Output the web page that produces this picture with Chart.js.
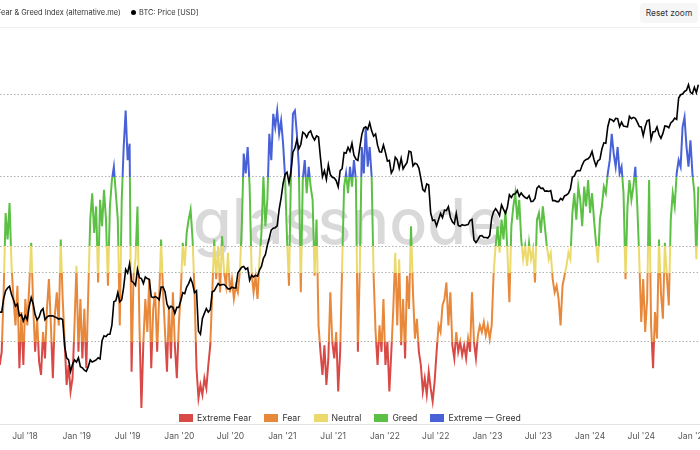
<!DOCTYPE html>
<html>
<head>
<meta charset="utf-8">
<title>Fear & Greed Index vs BTC price</title>
<script src="https://cdn.jsdelivr.net/npm/chart.js@4.4.0/dist/chart.umd.min.js"></script>
<style>
  html, body { margin: 0; padding: 0; background: #fff; }
  #wrap { position: relative; width: 700px; height: 450px; overflow: hidden; font-family: Inter, "Noto Sans", sans-serif; }
  #graph { position: absolute; left: 0; top: 0; }
  #head { position: absolute; left: 0; top: 0; width: 700px; height: 27px; border-bottom: 1px solid #ededed; }
  .item { position: absolute; top: 8px; font-size: 7.4px; color: #333; white-space: nowrap; }
  .dot { display: inline-block; width: 5px; height: 5px; border-radius: 50%; background: #000; margin-right: 3px; vertical-align: 0px; }
  #reset { position: absolute; left: 640px; top: 3px; width: 58px; height: 20px; line-height: 20px; text-align: center;
           background: #f6f6f7; border-radius: 4px; font-size: 8.4px; color: #333; }
  #legend { position: absolute; left: 0; top: 412px; width: 700px; display: flex; justify-content: center; gap: 13px;
            font-size: 8.7px; color: #333; line-height: 12px; }
  #legend span.box { display: inline-block; width: 14px; height: 8px; margin-right: 4px; vertical-align: -0.5px; }
</style>
</head>
<body>
<div id="wrap">
  <canvas id="graph" width="700" height="450"></canvas>
  <div id="head">
    <span class="item" style="left:-3px">Fear &amp; Greed Index (alternative.me)</span>
    <span class="item" style="left:131px"><span class="dot"></span>BTC: Price [USD]</span>
    <div id="reset">Reset zoom</div>
  </div>
  <div id="legend"></div>
</div>
<script>
// weekly samples, first one on startDate
const startDate = "2018-04-02";
const stepDays = 7;

const fearGreed = [
  18, 22, 40, 64, 56, 67, 48, 38, 30, 42,
  17, 34, 18, 38, 30, 42, 55, 36, 22, 32,
  19, 15, 28, 20, 35, 44, 30, 14, 33, 40,
  30, 56, 38, 25, 12, 18, 10, 14, 30, 48,
  22, 38, 20, 35, 17, 40, 62, 70, 58, 66,
  43, 68, 60, 71, 62, 42, 66, 74, 78, 70,
  62, 30, 68, 84, 95, 80, 85, 16, 45, 50,
  66, 30, 5, 25, 38, 28, 44, 17, 35, 40,
  22, 38, 56, 40, 28, 16, 36, 20, 40, 24,
  14, 30, 40, 55, 48, 58, 62, 65, 56, 40,
  17, 8, 12, 9, 14, 11, 18, 24, 40, 56,
  44, 54, 40, 57, 46, 42, 52, 40, 44, 38,
  42, 40, 46, 60, 82, 76, 84, 72, 46, 40,
  45, 38, 50, 58, 75, 60, 68, 88, 80, 94,
  90, 95, 88, 92, 85, 75, 56, 42, 76, 94,
  95, 88, 78, 40, 74, 80, 70, 78, 72, 68,
  45, 62, 30, 22, 15, 24, 12, 20, 40, 25,
  20, 28, 10, 22, 48, 72, 76, 70, 78, 72,
  80, 74, 22, 48, 84, 76, 90, 78, 84, 75,
  45, 28, 18, 30, 22, 38, 18, 25, 10, 22,
  35, 52, 30, 50, 24, 38, 20, 45, 35, 60,
  40, 26, 32, 22, 18, 10, 14, 9, 16, 11,
  7, 13, 22, 30, 28, 36, 38, 43, 30, 40,
  24, 20, 28, 22, 25, 21, 24, 20, 26, 22,
  40, 25, 20, 27, 30, 28, 31, 27, 30, 26,
  30, 46, 54, 60, 52, 62, 56, 65, 52, 37,
  60, 66, 70, 62, 68, 56, 50, 54, 48, 55,
  50, 53, 43, 62, 64, 58, 66, 60, 54, 50,
  52, 44, 40, 42, 38, 30, 42, 45, 48, 52,
  50, 64, 70, 62, 72, 68, 60, 72, 66, 74,
  64, 70, 62, 55, 49, 62, 66, 72, 70, 76,
  80, 88, 82, 78, 84, 76, 78, 70, 44, 66,
  74, 68, 72, 78, 66, 50, 31, 44, 28, 38,
  74, 30, 17, 34, 26, 56, 40, 32, 55, 45,
  36, 62, 70, 66, 76, 80, 78, 90, 93, 84,
  78, 86, 76, 70, 50, 72
];

const btcPrice = [
  6900, 6900, 8100, 8900, 9200, 9400, 8500, 8000, 7400, 7600,
  6600, 6700, 6200, 6600, 6300, 7400, 8200, 7600, 6700, 6300,
  6500, 7000, 7200, 6300, 6500, 6600, 6600, 6600, 6500, 6450,
  6350, 6400, 6300, 4600, 4000, 3900, 3400, 3700, 3900, 3800,
  4000, 3600, 3550, 3450, 3400, 3600, 3900, 3800, 3850, 3900,
  4000, 3950, 4900, 5200, 5150, 5300, 5300, 5900, 7800, 7900,
  8700, 7800, 8000, 9300, 11500, 11000, 12300, 10000, 9800, 9500,
  11500, 10400, 10300, 9700, 10500, 10300, 10200, 8300, 8200, 8300,
  8200, 8000, 9300, 9300, 8800, 7600, 7200, 7400, 7300, 6800,
  7300, 7300, 7900, 8700, 8600, 9300, 9700, 10300, 9700, 8700,
  8900, 5500, 5300, 6400, 6800, 7200, 6900, 7100, 8800, 8900,
  9300, 9700, 9500, 9600, 9600, 9400, 9100, 9100, 9300, 9200,
  9200, 11000, 11400, 11800, 11900, 11500, 11700, 10100, 10700, 10500,
  10700, 10600, 11400, 11900, 13100, 13700, 15300, 16700, 18400, 18800,
  18900, 19300, 23500, 27000, 32000, 35700, 36600, 32300, 37000, 46500,
  48700, 54000, 48500, 51000, 59000, 58000, 55500, 58700, 60000, 56000,
  53800, 56500, 55800, 43500, 34700, 37300, 33600, 40000, 35600, 34500,
  34200, 33100, 30800, 37300, 38200, 46300, 45900, 49300, 47000, 51700,
  44900, 42800, 42200, 49200, 57400, 62000, 63000, 61000, 66000, 60000,
  56300, 57800, 50600, 46700, 46600, 50700, 46400, 41800, 42200, 36300,
  37900, 43800, 42500, 38400, 43200, 38100, 39700, 41200, 47100, 46600,
  39500, 40800, 40400, 38500, 34000, 29800, 29100, 31800, 31400, 22500,
  20600, 20700, 19300, 20800, 22400, 21300, 23300, 23200, 24300, 21400,
  20300, 19800, 22400, 19400, 19200, 19600, 19400, 19500, 19600, 20600,
  20900, 16300, 15800, 16400, 17100, 17200, 16800, 16800, 16700, 17200,
  21200, 22900, 23700, 22900, 21800, 24800, 23500, 22400, 24200, 28000,
  27100, 28200, 28300, 29500, 27500, 28600, 27700, 27100, 26800, 27700,
  25800, 25900, 26800, 30300, 31100, 30200, 30300, 29200, 29300, 29100,
  29400, 26100, 26100, 25800, 25800, 26800, 26300, 27600, 27900, 28500,
  30000, 34500, 35000, 37000, 37400, 37300, 39900, 41900, 42600, 43000,
  44200, 46900, 42500, 39500, 42000, 42700, 48300, 52000, 51700, 63000,
  69000, 68500, 67000, 69700, 69400, 63000, 66500, 63500, 63200, 62900,
  71300, 69400, 70500, 69700, 66600, 63200, 62900, 56700, 63000, 67600,
  68400, 54100, 59300, 59500, 62900, 57400, 54900, 58200, 63600, 63300,
  62300, 66000, 67400, 69900, 68800, 88700, 92300, 93100, 96000, 97400,
  104000, 95000, 93500, 101000, 94500, 104000
];

const zoneNames = ["Extreme Fear", "Fear", "Neutral", "Greed", "Extreme — Greed"];
const zoneColors = ["#d94a46", "#e8883a", "#ebd96c", "#5bc043", "#4861d6"];
const zoneLimits = [25, 46, 54, 75];
const levelLines = [25, 46, 54, 75, 100];

const tickDates = ["2018-07-01", "2019-01-01", "2019-07-01", "2020-01-01", "2020-07-01", "2021-01-01", "2021-07-01",
  "2022-01-01", "2022-07-01", "2023-01-01", "2023-07-01", "2024-01-01", "2024-07-01", "2025-01-01"];
const tickLabels = ["Jul '18", "Jan '19", "Jul '19", "Jan '20", "Jul '20", "Jan '21", "Jul '21",
  "Jan '22", "Jul '22", "Jan '23", "Jul '23", "Jan '24", "Jul '24", "Jan '25"];

const day = s => Date.parse(s + "T00:00:00Z") / 864e5;
const x0 = day(startDate);

// colour the index line by the band its value falls in
function zoneGradient(context) {
  const chart = context.chart;
  const area = chart.chartArea;
  if (!area) return zoneColors[2];
  const s = chart.scales.fg;
  const g = chart.ctx.createLinearGradient(0, area.bottom, 0, area.top);
  const h = area.bottom - area.top;
  let prev = 0;
  zoneLimits.forEach((lim, i) => {
    const p = Math.min(Math.max((area.bottom - s.getPixelForValue(lim)) / h, 0), 1);
    g.addColorStop(prev, zoneColors[i]);
    g.addColorStop(p, zoneColors[i]);
    prev = p;
  });
  g.addColorStop(prev, zoneColors[4]);
  g.addColorStop(1, zoneColors[4]);
  return g;
}

const watermark = {
  id: "watermark",
  beforeDatasetsDraw(chart) {
    const ctx = chart.ctx;
    ctx.save();
    ctx.font = "500 63px Inter, sans-serif";
    ctx.fillStyle = "rgba(0,0,0,0.15)";
    ctx.textAlign = "center";
    ctx.textBaseline = "alphabetic";
    ctx.fillText("glassnode", 348, 244);
    ctx.restore();
  }
};

// html legend for the index bands
document.getElementById("legend").innerHTML = zoneNames
  .map((t, i) => '<span><span class="box" style="background:' + zoneColors[i] + '"></span>' + t + '</span>')
  .join("");

Chart.defaults.font.family = "Inter, 'Noto Sans', sans-serif";
Chart.defaults.font.size = 8.5;
Chart.defaults.color = "#333";

const chart = new Chart(document.getElementById("graph"), {
  type: "line",
  data: {
    datasets: [
      {
        label: "BTC: Price [USD]",
        yAxisID: "price",
        data: btcPrice.map((v, i) => ({ x: x0 + i * stepDays, y: v })),
        borderColor: "#000",
        borderWidth: 1.6,
        pointRadius: 0
      },
      {
        label: "Fear & Greed Index (alternative.me)",
        yAxisID: "fg",
        data: fearGreed.map((v, i) => ({ x: x0 + i * stepDays, y: v })),
        borderColor: zoneGradient,
        borderWidth: 2,
        pointRadius: 0
      }
    ]
  },
  options: {
    responsive: false,
    animation: false,
    layout: { padding: { top: 28, bottom: 1.3, left: 0, right: 0 } },
    plugins: {
      tooltip: { enabled: false },
      legend: { display: false }
    },
    scales: {
      x: {
        type: "linear",
        min: day("2018-04-03"),
        max: day("2025-01-26"),
        afterBuildTicks: s => { s.ticks = tickDates.map(d => ({ value: day(d) })); },
        afterFit: s => { s.paddingLeft = 0; s.paddingRight = 0; },
        ticks: { callback: (v, i) => tickLabels[i], color: "#555", padding: 7, maxRotation: 0, autoSkip: false },
        grid: { drawOnChartArea: false, drawTicks: false },
        border: { color: "#e3e3e3" }
      },
      fg: {
        type: "linear",
        position: "left",
        min: 0,
        max: 120,
        afterBuildTicks: s => { s.ticks = levelLines.map(v => ({ value: v })); },
        ticks: { display: false },
        grid: { color: "#b0b0b0", drawTicks: false },
        border: { display: false, dash: [1.5, 2] }
      },
      price: {
        type: "logarithmic",
        display: false,
        bounds: "data",
        min: 1805,
        max: 204700
      }
    }
  },
  plugins: [watermark]
});
</script>
</body>
</html>
